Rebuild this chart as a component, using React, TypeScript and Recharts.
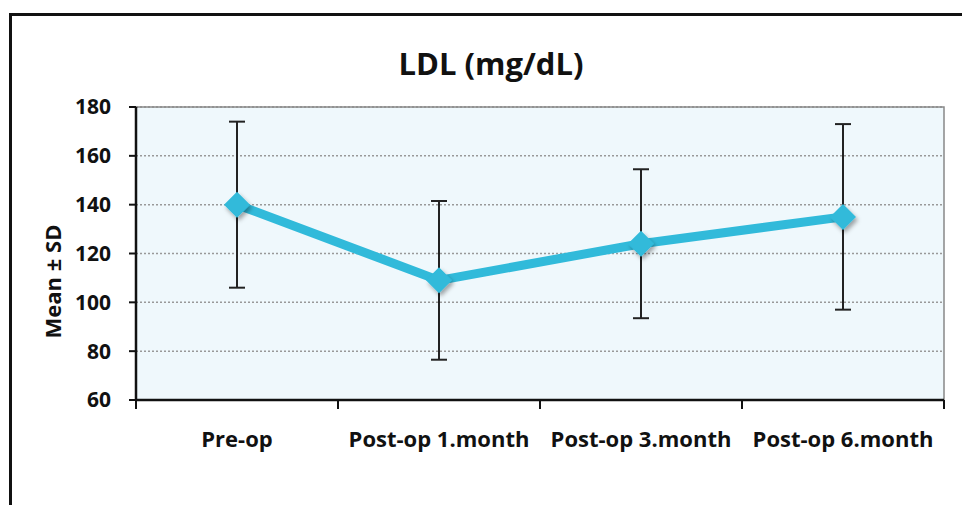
import { LineChart, Line, XAxis, YAxis, CartesianGrid, ErrorBar, ReferenceArea } from "recharts";

const periods = ["Pre-op", "Post-op 1.month", "Post-op 3.month", "Post-op 6.month"];
const ldlMean = [140, 109, 124, 135];
const ldlSd = [34, 32.5, 30.5, 38];
const yTicks = [60, 80, 100, 120, 140, 160, 180];

const data = periods.map((period, i) => ({ period, mean: ldlMean[i], sd: ldlSd[i] }));

const FONT = "'Open Sans', Lato, sans-serif";
const LINE_COLOR = "#31bada";

// diamond marker with a soft drop shadow
const Diamond = (props: any) => {
  const { cx, cy, index } = props;
  if (cx == null || cy == null) return null;
  const r = 13;
  return (
    <polygon
      key={`d-${index}`}
      points={`${cx},${cy - r} ${cx + r},${cy} ${cx},${cy + r} ${cx - r},${cy}`}
      fill={LINE_COLOR}
      filter="url(#markerShadow)"
    />
  );
};

// category label plus tick marks on the band edges
const PeriodTick = (props: any) => {
  const { x, y, payload, index } = props;
  const half = payload.offset ?? 0;
  const last = index === periods.length - 1;
  return (
    <g>
      <line x1={x - half} y1={y - 8} x2={x - half} y2={y + 1} stroke="#111" strokeWidth={2} />
      {last && <line x1={x + half} y1={y - 8} x2={x + half} y2={y + 1} stroke="#111" strokeWidth={2} />}
      <text x={x} y={y + 39} textAnchor="middle" fontFamily={FONT} fontWeight={700} fontSize={22} fill="#111">
        {payload.value}
      </text>
    </g>
  );
};

// rotated axis title, sitting a little below the axis middle
const AxisTitle = (props: any) => {
  const { viewBox } = props;
  const cx = 52;
  const cy = viewBox.y + viewBox.height / 2 + 28;
  return (
    <text
      x={cx}
      y={cy}
      transform={`rotate(-90, ${cx}, ${cy})`}
      textAnchor="middle"
      dominantBaseline="central"
      fontFamily={FONT}
      fontWeight={700}
      fontSize={22}
      fill="#111"
    >
      Mean ± SD
    </text>
  );
};

export default function App() {
  return (
    <div style={{ position: "fixed", left: 0, top: 0, width: 962, height: 505, overflow: "hidden", background: "#fff" }}>
      <div
        style={{
          position: "absolute",
          left: 9,
          top: 13,
          width: 1000,
          height: 600,
          border: "3px solid #111",
          boxSizing: "border-box",
        }}
      />
      <div
        style={{
          position: "absolute",
          left: 20,
          top: 43,
          width: 942,
          textAlign: "center",
          fontFamily: FONT,
          fontWeight: 700,
          fontSize: 31,
          lineHeight: "40px",
          color: "#111",
        }}
      >
        LDL (mg/dL)
      </div>
      <div style={{ position: "absolute", left: 0, top: 0 }}>
        <LineChart width={962} height={505} data={data} margin={{ top: 107, right: 18, bottom: 45, left: 76 }}>
          <defs>
            <filter id="markerShadow" x="-50%" y="-50%" width="200%" height="200%">
              <feDropShadow dx="2" dy="3" stdDeviation="2" floodColor="#000" floodOpacity="0.35" />
            </filter>
          </defs>
          <CartesianGrid
            vertical={false}
            fill="#eff8fc"
            fillOpacity={1}
            stroke="#999"
            strokeDasharray="2 2"
            strokeWidth={1.5}
          />
          <ReferenceArea y1={60} y2={180} fill="none" stroke="#888" strokeWidth={1.5} ifOverflow="visible" />
          <XAxis
            dataKey="period"
            scale="band"
            height={60}
            axisLine={{ stroke: "#111", strokeWidth: 2.5 }}
            tickLine={false}
            tick={<PeriodTick />}
            interval={0}
          />
          <YAxis
            domain={[60, 180]}
            ticks={yTicks}
            width={60}
            axisLine={{ stroke: "#111", strokeWidth: 2.5 }}
            tickLine={{ stroke: "#111", strokeWidth: 2 }}
            tickSize={7}
            tickMargin={18}
            tick={{ fontFamily: FONT, fontWeight: 700, fontSize: 21, fill: "#111" }}
            label={<AxisTitle />}
          />
          <Line
            type="linear"
            dataKey="mean"
            stroke={LINE_COLOR}
            strokeWidth={9}
            dot={<Diamond />}
            activeDot={false}
            isAnimationActive={false}
          >
            <ErrorBar dataKey="sd" direction="y" width={8} stroke="#222" strokeWidth={2} isAnimationActive={false} />
          </Line>
        </LineChart>
      </div>
    </div>
  );
}
